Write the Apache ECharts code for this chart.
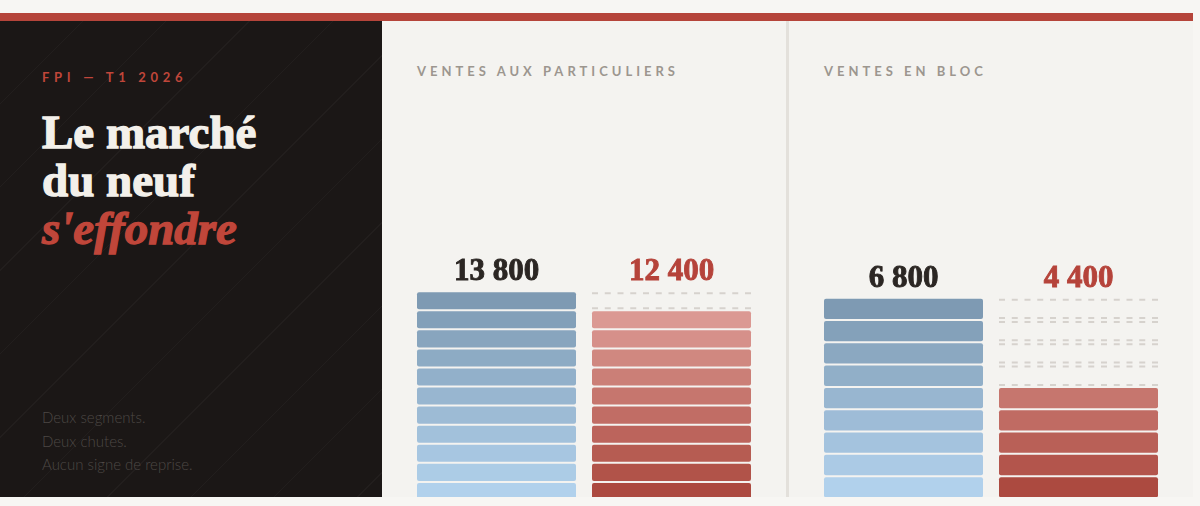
<!DOCTYPE html>
<html lang="fr">
<head>
<meta charset="utf-8">
<title>Le marché du neuf s'effondre</title>
<script src="https://cdn.jsdelivr.net/npm/echarts@6.0.0/dist/echarts.min.js"></script>
<style>
html, body { margin:0; padding:0; }
body { width:1200px; height:506px; background:#f7f6f3; position:relative; overflow:hidden; font-family:Lato, "Open Sans", sans-serif; }
#card { position:absolute; left:0; top:13px; width:1193px; height:476px; border-top:8px solid #b5443a; background:#f4f3f0; }
#side { position:absolute; left:0; top:21px; width:382px; height:476px; background-color:#1b1716;
	background-image:repeating-linear-gradient(135deg, rgba(255,255,255,0) 0, rgba(255,255,255,0) 58px, rgba(255,255,255,0.03) 58px, rgba(255,255,255,0.03) 59px); }
.kicker { position:absolute; left:42px; top:69px; font:700 13px/16px Lato, sans-serif; letter-spacing:4.7px; color:#c0463a; }
h1 { position:absolute; left:42px; top:108px; margin:0; font:700 47px/48px "Liberation Serif", serif; color:#f3f0ea; -webkit-text-stroke:1.3px #f3f0ea; }
h1 em { color:#c0463a; font-style:italic; -webkit-text-stroke:1.3px #c0463a; }
.note { position:absolute; left:42px; top:406px; margin:0; font:300 15px/23.5px Lato, sans-serif; color:#4d4845; }
.head { position:absolute; top:63px; font:700 13px/16px Lato, sans-serif; letter-spacing:4px; color:#9c968f; }
#divider { position:absolute; left:786px; top:21px; width:3px; height:476px; background:#e3e0db; }
#chart { position:absolute; left:0; top:0; width:1200px; height:506px; }
#floor { position:absolute; left:0; top:497px; width:1200px; height:9px; background:#f7f6f3; }
</style>
</head>
<body>
<div id="card"></div>
<div id="side"></div>
<div class="kicker">FPI — T1 2026</div>
<h1>Le marché<br>du neuf<br><em>s'effondre</em></h1>
<p class="note">Deux segments.<br>Deux chutes.<br>Aucun signe de reprise.</p>
<div id="divider"></div>
<div class="head" style="left:417px">VENTES AUX PARTICULIERS</div>
<div class="head" style="left:824px">VENTES EN BLOC</div>
<div id="chart"></div>
<div id="floor"></div>

<script>
//données
var categories = ['avant', 'après'];
var ventesParticuliers = [13800, 12400];
var ventesBloc = [6800, 4400];
//valeur d'un bloc et haut de l'axe, par segment
var pasParticuliers = 1200;
var pasBloc = 750;
var maxParticuliers = 15600;
var maxBloc = 8250;

var couleurs = [
	{ bas:[177, 209, 236], haut:[126, 154, 179], texte:'#2b2623' },
	{ bas:[172, 74, 64], haut:[224, 162, 156], texte:'#b5433a' }
];

function melange(a, b, t)
{
	var c = [];
	for (var j = 0; j < 3; j++) c.push(Math.round(a[j] + (b[j] - a[j]) * t));
	return 'rgb(' + c.join(',') + ')';
}

function format(v)
{
	return String(v).replace(/\B(?=(\d{3})+(?!\d))/g, ' ');
}

//dessin des barres en blocs
function blocs(valeurs, pas)
{
	var plein = Math.floor(valeurs[0] / pas);
	return function (params, api) {
		var i = api.value(0);
		var n = Math.floor(api.value(1) / pas);
		var largeur = api.size([1, 0])[0] - 16;
		var x = api.coord([i, 0])[0] - largeur / 2;
		var c = couleurs[i];
		var enfants = [];
		for (var k = 0; k < plein; k++) {
			var bas = api.coord([i, k * pas])[1];
			var haut = api.coord([i, (k + 1) * pas])[1] + 2;
			if (k < n) {
				enfants.push({
					type:'rect',
					shape:{ x:x, y:haut, width:largeur, height:bas - haut, r:2 },
					style:{ fill:melange(c.bas, c.haut, k / (plein - 1)) }
				});
			} else {
				// blocs perdus : pointillés
				[haut + 1, bas - 1].forEach(function (y) {
					enfants.push({
						type:'line',
						shape:{ x1:x, y1:y, x2:x + largeur, y2:y },
						style:{ stroke:'#d6d2cd', lineWidth:2, lineDash:[6, 6.75] }
					});
				});
			}
		}
		var sommet = api.coord([i, plein * pas])[1] + 2;
		enfants.push({
			type:'text',
			style:{
				text:format(api.value(1)),
				x:x + largeur / 2,
				y:sommet - 20,
				align:'center',
				verticalAlign:'middle',
				font:'bold 31px "Liberation Serif", serif',
				fill:c.texte,
				stroke:c.texte,
				lineWidth:0.9
			}
		});
		return { type:'group', children:enfants };
	};
}

function donnees(valeurs)
{
	return categories.map(function (c, i) { return [i, valeurs[i]]; });
}

var myChart = echarts.init(document.getElementById('chart'));

var option = {
	animation:false,
	grid:[
		{ left:409, top:252, width:350, height:248 },
		{ left:816, top:252, width:350, height:245.5 }
	],
	xAxis:[
		{ type:'category', gridIndex:0, data:categories, show:false },
		{ type:'category', gridIndex:1, data:categories, show:false }
	],
	yAxis:[
		{ type:'value', gridIndex:0, min:0, max:maxParticuliers, show:false },
		{ type:'value', gridIndex:1, min:0, max:maxBloc, show:false }
	],
	series:[
		{
			name:'Ventes aux particuliers',
			type:'custom',
			xAxisIndex:0,
			yAxisIndex:0,
			renderItem:blocs(ventesParticuliers, pasParticuliers),
			encode:{ x:0, y:1 },
			data:donnees(ventesParticuliers)
		},
		{
			name:'Ventes en bloc',
			type:'custom',
			xAxisIndex:1,
			yAxisIndex:1,
			renderItem:blocs(ventesBloc, pasBloc),
			encode:{ x:0, y:1 },
			data:donnees(ventesBloc)
		}
	]
};

myChart.setOption(option);
</script>
</body>
</html>
